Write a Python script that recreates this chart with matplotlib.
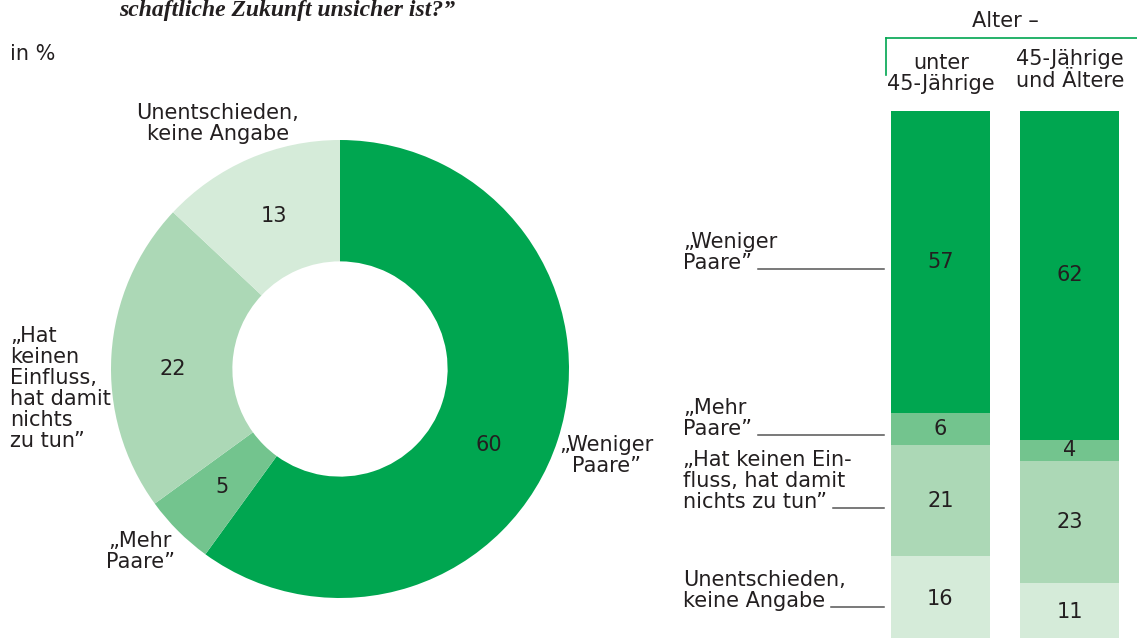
import numpy as np
import matplotlib.pyplot as plt
from matplotlib.lines import Line2D

W, H = 1137, 638

# data
total = [60, 5, 22, 13]
under45 = [57, 6, 21, 16]
over45 = [62, 4, 23, 11]
groups = ['unter\n45-Jährige', '45-Jährige\nund Ältere']
pie_labels = ['„Weniger\nPaare”', '„Mehr\nPaare”',
              '„Hat\nkeinen\nEinfluss,\nhat damit\nnichts\nzu tun”',
              'Unentschieden,\nkeine Angabe']
bar_labels = ['„Weniger\nPaare”', '„Mehr\nPaare”',
              '„Hat keinen Ein-\nfluss, hat damit\nnichts zu tun”',
              'Unentschieden,\nkeine Angabe']
colors = ['#00a650', '#73c48e', '#acd8b6', '#d5ebd9']
TXT = '#231f20'
FS = 15

plt.rcParams['font.family'] = 'DejaVu Sans'
fig = plt.figure(figsize=(W / 100, H / 100), dpi=100)


def fx(x):
    return x / W


def fy(y):
    return 1 - y / H


# write multi-line text line by line, y = baseline of first line (px)
def put(x, y, s, ha='left', step=21, **kw):
    t = None
    for i, line in enumerate(s.split('\n')):
        t = fig.text(fx(x), fy(y + i * step), line, ha=ha, va='baseline',
                     fontsize=FS, color=TXT, **kw)
    return t


# title fragment + unit
fig.text(fx(287), fy(16), 'schaftliche Zukunft unsicher ist?”', ha='center',
         va='baseline', family='Liberation Serif', weight='bold',
         style='italic', fontsize=17, color=TXT)
put(10, 60, 'in %')

# donut
ax = fig.add_axes([111 / W, (H - 598) / H, 458 / W, 458 / H])
ax.pie(total, colors=colors, startangle=90, counterclock=False, radius=1,
       wedgeprops=dict(width=0.53, linewidth=0))
ax.set_xlim(-1, 1)
ax.set_ylim(-1, 1)
ax.axis('off')

cum = np.cumsum([0] + total[:-1])
nudge = [-9, 0, 3.5, 0]
for v, c, n in zip(total, cum, nudge):
    a = np.deg2rad(90 - (c + v / 2) * 3.6 + n)
    ax.text(0.73 * np.cos(a), 0.73 * np.sin(a), str(v), ha='center',
            va='center', fontsize=FS, color=TXT)

put(606, 451, pie_labels[0], ha='center')
put(140, 547, pie_labels[1], ha='center')
put(10, 342, pie_labels[2])
put(218, 119, pie_labels[3], ha='center')

# stacked bars
w = 0.767
bx = fig.add_axes([891 / W, (H - 641) / H, 228 / W, 530 / H])
for i, vals in enumerate([under45, over45]):
    bottoms = np.cumsum([0] + vals[:-1])
    bx.bar([i] * len(vals), vals, bottom=bottoms, width=w, color=colors,
           linewidth=0)
    for v, b in zip(vals, bottoms):
        bx.text(i, b + v / 2, str(v), ha='center', va='center', fontsize=FS,
                color=TXT)
bx.set_xlim(-w / 2, 1 + w / 2)
bx.set_ylim(100, 0)
bx.axis('off')

# header
put(1005, 27, 'Alter –', ha='center')
put(941, 69, groups[0], ha='center')
put(1070, 65, groups[1], ha='center', step=22)
fig.add_artist(Line2D([fx(886), fx(886)], [fy(38), fy(75)],
                      transform=fig.transFigure, color='#00a650', lw=1.2))
fig.add_artist(Line2D([fx(886), fx(1137)], [fy(38), fy(38)],
                      transform=fig.transFigure, color='#00a650', lw=1.2))

# labels left of bars with leader lines
first_base = [248, 414, 466, 586]
last = []
for lab, y0 in zip(bar_labels, first_base):
    n = lab.count('\n')
    last.append((put(683, y0, lab), y0 + n * 21))

fig.canvas.draw()
r = fig.canvas.get_renderer()
for t, yb in last:
    x_end = t.get_window_extent(r).x1
    fig.add_artist(Line2D([fx(x_end + 6), fx(884)], [fy(yb), fy(yb)],
                          transform=fig.transFigure, color='#555555', lw=1.1))

fig.savefig('out.png', dpi=100)
